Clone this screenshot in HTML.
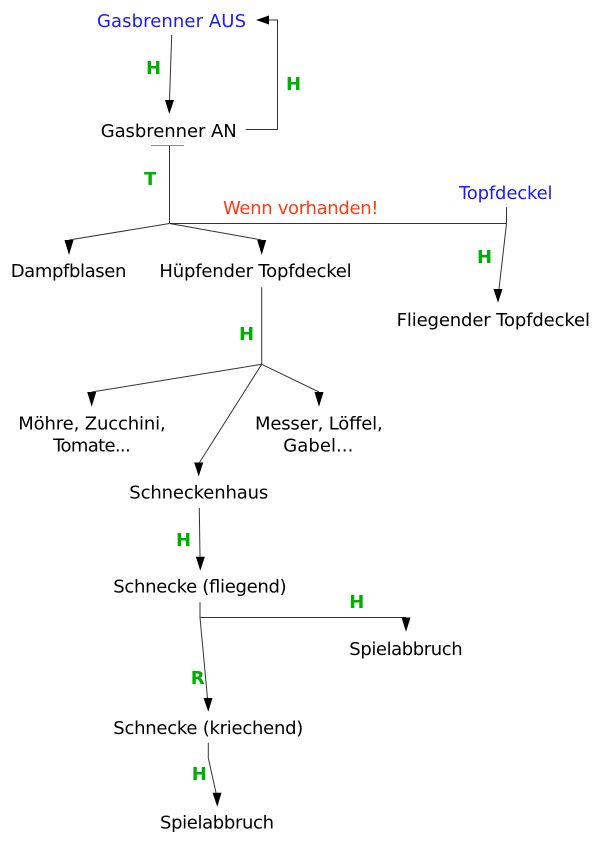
<!DOCTYPE html>
<html><head><meta charset="utf-8"><style>
html,body{margin:0;padding:0;background:#fff;}
svg{display:block;}
text{font-family:"DejaVu Sans","Liberation Sans",sans-serif;font-size:18px;}
.b{fill:#1a1aff;}
.k{fill:#000;}
.r{fill:#ff3a14;}
.g{fill:#00b000;font-weight:bold;font-size:18px;}
line,polyline{stroke:#333;stroke-width:1;fill:none;}
polygon{fill:#000;}
</style></head><body>
<svg width="600" height="847" viewBox="0 0 600 847" xmlns="http://www.w3.org/2000/svg">
<rect width="600" height="847" fill="#fff"/>
<text class="b" x="97" y="27" textLength="149" lengthAdjust="spacing">Gasbrenner AUS</text>
<line x1="171.7" y1="35" x2="169.5" y2="100"/>
<polygon points="165,100 174,100 169.3,114"/>
<text class="g" x="146" y="74">H</text>
<text class="k" x="100.7" y="137" textLength="136" lengthAdjust="spacing">Gasbrenner AN</text>
<polyline points="245.7,129.5 277.5,129.5 277.5,20 269,20"/>
<polygon points="269,15.5 269,24.5 256,20"/>
<text class="g" x="286" y="90">H</text>
<line x1="151" y1="145.5" x2="184" y2="145.5" style="stroke:#888"/>
<line x1="169.5" y1="146" x2="169.5" y2="223.5"/>
<text class="g" x="144" y="185">T</text>
<line x1="169.5" y1="223.5" x2="506.5" y2="223.5"/>
<line x1="506.5" y1="207.3" x2="506.5" y2="223.5"/>
<line x1="506.5" y1="223.5" x2="499" y2="289"/>
<polygon points="493.5,289 502.5,289 498,302.7"/>
<text class="b" x="459" y="199" textLength="93.5" lengthAdjust="spacing">Topfdeckel</text>
<text class="r" x="223" y="214" textLength="155.5" lengthAdjust="spacing">Wenn vorhanden!</text>
<text class="g" x="477" y="263">H</text>
<text class="k" x="396.6" y="326" textLength="193.4" lengthAdjust="spacing">Fliegender Topfdeckel</text>
<line x1="169.5" y1="223.5" x2="69" y2="240"/>
<polygon points="64.5,240 73.5,240 69,255"/>
<line x1="169.5" y1="223.5" x2="261.7" y2="240"/>
<polygon points="257.2,240 266.2,240 261.7,255"/>
<text class="k" x="10.7" y="277" textLength="115.7" lengthAdjust="spacing">Dampfblasen</text>
<text class="k" x="159.4" y="277" textLength="192.3" lengthAdjust="spacing">Hüpfender Topfdeckel</text>
<line x1="261.7" y1="287.3" x2="261.7" y2="364.3"/>
<text class="g" x="239" y="340">H</text>
<line x1="261.7" y1="364.3" x2="91.7" y2="392"/>
<polygon points="87.2,392 96.2,392 91.7,406.7"/>
<line x1="261.7" y1="364.3" x2="319" y2="392"/>
<polygon points="314.5,392 323.5,392 319,406.7"/>
<line x1="261.7" y1="364.3" x2="199.5" y2="462.5"/>
<polygon points="194.2,462.5 203.2,462.5 198.7,476.5"/>
<text class="k" x="18.3" y="429.3" textLength="147.4" lengthAdjust="spacing">Möhre, Zucchini,</text>
<text class="k" x="53.3" y="451.7" textLength="77.4" lengthAdjust="spacing">Tomate...</text>
<text class="k" x="255" y="429.3" textLength="127.7" lengthAdjust="spacing">Messer, Löffel,</text>
<text class="k" x="283.3" y="451.7" textLength="70" lengthAdjust="spacing">Gabel...</text>
<text class="k" x="129.3" y="498.3" textLength="139" lengthAdjust="spacing">Schneckenhaus</text>
<line x1="199.3" y1="508" x2="200" y2="556.7"/>
<polygon points="195.8,556.7 204.8,556.7 200.3,570.7"/>
<text class="g" x="176" y="546">H</text>
<text class="k" x="113.3" y="592.7" textLength="173.4" lengthAdjust="spacing">Schnecke (fliegend)</text>
<polyline points="200,602.3 200,617.5 406,617.5"/>
<polygon points="401.5,617.5 410.5,617.5 406,631.7"/>
<text class="g" x="349.3" y="608">H</text>
<text class="k" x="349.3" y="655" textLength="113.4" lengthAdjust="spacing">Spielabbruch</text>
<line x1="200" y1="617.5" x2="207.5" y2="698.3"/>
<polygon points="203.5,698 212.5,698 208.3,711.7"/>
<text class="g" x="190.7" y="684">R</text>
<text class="k" x="113.3" y="734" textLength="190" lengthAdjust="spacing">Schnecke (kriechend)</text>
<polyline points="208.3,742.7 208.3,758 216,792.7"/>
<polygon points="212.5,792.7 221.5,792.7 217.3,806.7"/>
<text class="g" x="191.7" y="780">H</text>
<text class="k" x="160" y="828.3" textLength="114" lengthAdjust="spacing">Spielabbruch</text>
</svg>
</body></html>
